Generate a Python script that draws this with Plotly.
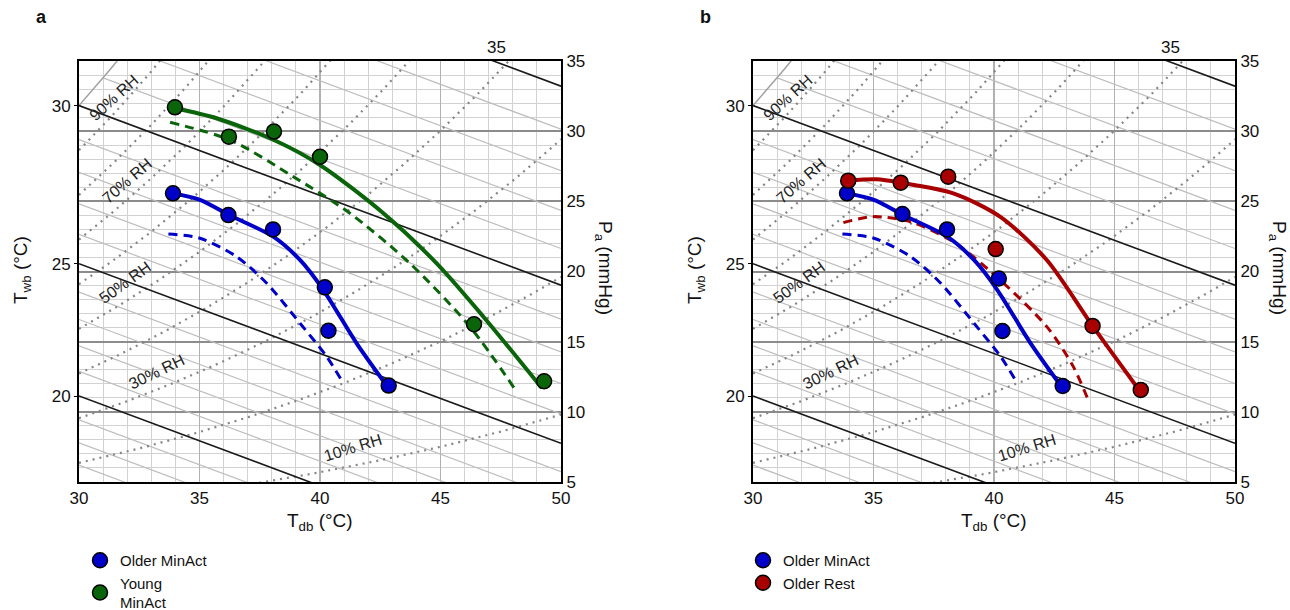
import numpy as np
import plotly.graph_objects as go

# ---------------- data (Tdb in degC, Pa in mmHg) ----------------
older_minact_tdb = [33.9, 36.2, 38.05, 40.2, 40.35, 42.85]
older_minact_pa_a = [25.57, 24.02, 23.0, 18.87, 15.78, 11.87]
older_minact_pa_b = [25.57, 24.1, 23.0, 19.5, 15.76, 11.84]
young_minact_tdb = [33.98, 36.22, 38.09, 40.0, 46.39, 49.3]
young_minact_pa = [31.7, 29.61, 29.97, 28.18, 16.24, 12.18]
older_rest_tdb = [33.95, 36.13, 38.1, 40.07, 44.09, 46.09]
older_rest_pa = [26.47, 26.33, 26.76, 21.6, 16.12, 11.56]

# fitted (solid) and predicted (dashed) limit curves
young_fit_tdb = [33.98, 35.71, 38.09, 40.0, 42.63, 44.84, 46.78, 49.2]
young_fit_pa = [31.63, 30.92, 29.37, 27.59, 24.15, 20.58, 16.78, 11.7]
young_pred_tdb = [33.78, 36.27, 38.89, 41.24, 43.73, 46.22, 48.16]
young_pred_pa = [30.63, 29.37, 26.76, 24.15, 20.58, 16.07, 11.44]
older_fit_tdb = [33.89, 35.02, 36.22, 38.06, 39.17, 40.14, 41.52, 42.7]
older_fit_pa = [25.57, 25.1, 24.03, 22.48, 20.82, 18.68, 14.88, 12.03]
older_pred_tdb = [33.71, 35.02, 36.54, 37.79, 39.17, 40.28, 40.97]
older_pred_pa = [22.67, 22.37, 21.06, 19.16, 16.31, 13.93, 12.03]
rest_fit_tdb = [33.95, 35.13, 36.13, 38.31, 40.25, 42.19, 44.09, 45.92]
rest_fit_pa = [26.47, 26.57, 26.33, 25.57, 23.91, 20.82, 16.12, 11.79]
rest_pred_tdb = [33.75, 34.99, 36.51, 38.31, 40.25, 42.19, 43.29, 43.91]
rest_pred_pa = [23.48, 23.91, 23.55, 22.12, 19.4, 16.07, 13.22, 10.84]

# chart furniture
tdb_ticks = [30, 35, 40, 45, 50]
pa_ticks = [5, 10, 15, 20, 25, 30, 35]
twb_labels = [20, 25, 30]
twb_bold = [20, 25, 30, 35]
rh_levels = [10, 20, 30, 40, 50, 60, 70, 80, 90]
rh_label_text = ["90% RH", "70% RH", "50% RH", "30% RH", "10% RH"]
rh_label_tdb = [31.45, 32.0, 31.9, 33.24, 41.37]
rh_label_pa = [32.4, 26.5, 19.25, 12.84, 7.49]
rh_label_angle = [-42, -41, -36, -26, -17]

BLUE = "#0000c8"
GREEN = "#0a640a"
RED = "#a80000"
FONT = "Arial, Liberation Sans, sans-serif"

W, H = 1290, 610


def px(x):
    return x / W


def py(y):
    return 1 - y / H


def psat(t):
    t = np.asarray(t, dtype=float)
    base = np.exp(18.956 - 4030.18 / (t + 235.0)) * 0.750062
    return base * (1 + 0.003 * np.maximum(t - 30.0, 0))


GAMMA = 0.64


def pa_wb(tdb, twb):
    return psat(twb) - GAMMA * (np.asarray(tdb) - twb)


fig = go.Figure()

panels = [
    dict(x="x", y="y", y3="y3", leg="legend", left=79),
    dict(x="x2", y="y2", y3="y4", leg="legend2", left=753),
]


def add_background(p):
    xa, ya = p["x"], p["y"]
    for twb in range(14, 41):
        if twb in twb_bold:
            continue
        t = np.linspace(max(twb, 30), 50, 60)
        fig.add_trace(go.Scatter(x=t, y=pa_wb(t, twb), mode="lines",
                                 line=dict(color="#bdbdbd", width=1.2),
                                 xaxis=xa, yaxis=ya, hoverinfo="skip", showlegend=False))
    t = np.linspace(30, 33, 40)
    fig.add_trace(go.Scatter(x=t, y=psat(t), mode="lines",
                             line=dict(color="#a0a0a0", width=1.5),
                             xaxis=xa, yaxis=ya, hoverinfo="skip", showlegend=False))
    for rh in rh_levels:
        t = np.linspace(30, 50, 120)
        fig.add_trace(go.Scatter(x=t, y=psat(t) * rh / 100.0, mode="lines",
                                 line=dict(color="#858585", width=2.2, dash="2px,5px"),
                                 xaxis=xa, yaxis=ya, hoverinfo="skip", showlegend=False))
    for twb in twb_bold:
        t = np.linspace(max(twb, 30), 50, 60)
        fig.add_trace(go.Scatter(x=t, y=pa_wb(t, twb), mode="lines",
                                 line=dict(color="#1a1a1a", width=1.6),
                                 xaxis=xa, yaxis=ya, hoverinfo="skip", showlegend=False))
    fig.add_trace(go.Scatter(x=[None], y=[None], xaxis=xa, yaxis=p["y3"],
                             showlegend=False, hoverinfo="skip"))


def add_curve(p, tx, ty, color, dash):
    fig.add_trace(go.Scatter(x=tx, y=ty, mode="lines", line_shape="spline",
                             line=dict(color=color, width=4 if dash == "solid" else 3,
                                       smoothing=0.8,
                                       dash=dash if dash == "solid" else "9px,6px"),
                             xaxis=p["x"], yaxis=p["y"], hoverinfo="skip", showlegend=False))


def add_points(p, tx, ty, color, name):
    fig.add_trace(go.Scatter(x=tx, y=ty, mode="markers", name=name,
                             marker=dict(color=color, size=15, line=dict(color="black", width=1.5)),
                             xaxis=p["x"], yaxis=p["y"], legend=p["leg"], showlegend=True))


pa = panels[0]
add_background(pa)
add_curve(pa, older_pred_tdb, older_pred_pa, BLUE, "dash")
add_curve(pa, young_pred_tdb, young_pred_pa, GREEN, "dash")
add_curve(pa, older_fit_tdb, older_fit_pa, BLUE, "solid")
add_curve(pa, young_fit_tdb, young_fit_pa, GREEN, "solid")
add_points(pa, older_minact_tdb, older_minact_pa_a, BLUE, "Older MinAct")
add_points(pa, young_minact_tdb, young_minact_pa, GREEN, "Young<br>MinAct")

pb = panels[1]
add_background(pb)
add_curve(pb, older_pred_tdb, older_pred_pa, BLUE, "dash")
add_curve(pb, rest_pred_tdb, rest_pred_pa, RED, "dash")
add_curve(pb, older_fit_tdb, older_fit_pa, BLUE, "solid")
add_curve(pb, rest_fit_tdb, rest_fit_pa, RED, "solid")
add_points(pb, older_minact_tdb, older_minact_pa_b, BLUE, "Older MinAct")
add_points(pb, older_rest_tdb, older_rest_pa, RED, "Older Rest")

ydom = [py(482), py(61)]
xdoms = [[px(79), px(561)], [px(753), px(1235)]]
twb_pos = [float(pa_wb(30, t)) for t in twb_labels]

common_x = dict(range=[30, 50], tickvals=tdb_ticks, showgrid=True, gridcolor="#b0b0b0",
                gridwidth=1.2, minor=dict(dtick=1, tick0=30, showgrid=True, gridcolor="#d2d2d2", gridwidth=1),
                showline=True, mirror=True, linecolor="black", linewidth=2, ticks="",
                zeroline=False, automargin=False, tickfont=dict(size=17, color="#111"))
common_y = dict(range=[5, 35], tickvals=pa_ticks, side="right", showgrid=True, gridcolor="#8c8c8c",
                gridwidth=2, minor=dict(dtick=1, tick0=5, showgrid=True, gridcolor="#d2d2d2", gridwidth=1),
                showline=True, mirror=True, linecolor="black", linewidth=2, ticks="",
                zeroline=False, automargin=False, tickfont=dict(size=17, color="#111"), domain=ydom)
twb_axis = dict(range=[5, 35], side="left", tickvals=twb_pos, ticktext=[str(v) for v in twb_labels],
                showgrid=False, zeroline=False, ticks="outside", ticklen=4, tickcolor="black",
                showline=False, automargin=False, tickfont=dict(size=17, color="#111"))


def ann(text, x, y, size, angle=0, **kw):
    d = dict(text=text, x=x, y=y, xref="paper", yref="paper", showarrow=False,
             xanchor="center", yanchor="middle", textangle=angle,
             font=dict(size=size, color="#111"))
    d.update(kw)
    return d


annotations = []
for p in panels:
    xr, yr = p["x"], p["y"]
    for txt, tx, ty, ang in zip(rh_label_text, rh_label_tdb, rh_label_pa, rh_label_angle):
        annotations.append(dict(text=txt, x=tx, y=ty, xref=xr, yref=yr, showarrow=False,
                                xanchor="center", yanchor="middle",
                                textangle=ang, font=dict(size=16, color="#222")))
    off = p["left"] - 79
    annotations.append(ann("35", px(496 + off), py(47), 17))
    annotations.append(ann("T<sub>db</sub> (°C)", px(320 + off), py(522), 19))
    annotations.append(ann("T<sub>wb</sub> (°C)", px(22 + off), py(270), 19, angle=-90))
    annotations.append(ann("P<sub>a</sub> (mmHg)", px(604 + off), py(268), 19, angle=90))

annotations.append(ann("<b>a</b>", px(41), py(17), 18))
annotations.append(ann("<b>b</b>", px(706), py(17), 18))

leg_common = dict(xanchor="left", yanchor="top", bgcolor="rgba(0,0,0,0)",
                  font=dict(size=15, color="#111", family=FONT), tracegroupgap=0,
                  itemwidth=30)

fig.update_layout(
    width=W, height=H,
    margin=dict(l=0, r=0, t=0, b=0, autoexpand=False),
    paper_bgcolor="white", plot_bgcolor="white",
    font=dict(family=FONT, color="#111"),
    xaxis=dict(common_x, domain=xdoms[0], anchor="y"),
    yaxis=dict(common_y, anchor="x"),
    yaxis3=dict(twb_axis, overlaying="y", anchor="x"),
    xaxis2=dict(common_x, domain=xdoms[1], anchor="y2"),
    yaxis2=dict(common_y, anchor="x2"),
    yaxis4=dict(twb_axis, overlaying="y2", anchor="x2"),
    legend=dict(leg_common, x=px(80), y=py(544)),
    legend2=dict(leg_common, x=px(743), y=py(544)),
    annotations=annotations,
    hovermode=False,
)

fig.write_html("out.html",
               config={"displayModeBar": False, "staticPlot": True},
               post_script="document.body.style.margin='0';document.body.style.overflow='hidden';")
